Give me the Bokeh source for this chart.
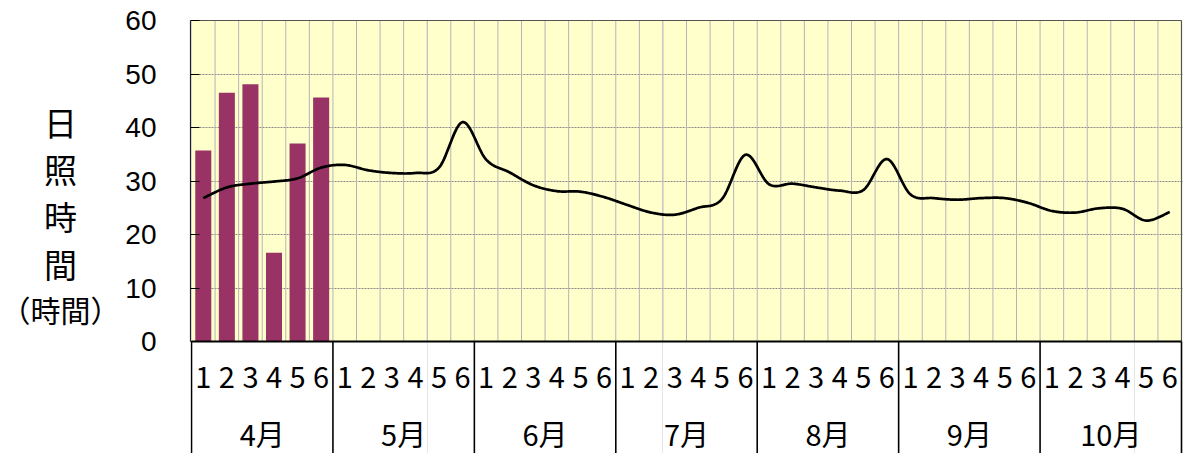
import numpy as np
from bokeh.plotting import figure
from bokeh.layouts import row
from bokeh.models import Range1d, FixedTicker
from bokeh.core.properties import value
from bokeh.embed import file_html
from bokeh.resources import INLINE

# ---------------- data ----------------
months = ["4月", "5月", "6月", "7月", "8月", "9月", "10月"]
pentads = ["1", "2", "3", "4", "5", "6"]
observed = [35.7, 46.5, 48.1, 16.6, 37.0, 45.6]          # April, pentads 1-6
normal = [26.8, 28.8, 29.5, 29.9, 30.5, 32.5,
          33.0, 32.0, 31.5, 31.5, 32.5, 41.0,
          34.0, 31.6, 29.2, 28.1, 28.0, 27.0,
          25.5, 24.1, 23.7, 25.0, 26.6, 34.9,
          29.4, 29.5, 28.8, 28.2, 28.3, 34.1,
          27.5, 26.8, 26.5, 26.8, 26.8, 25.9,
          24.4, 24.1, 24.9, 24.8, 22.6, 24.2]
y_ticks = [0, 10, 20, 30, 40, 50, 60]
y_title_chars = ["日", "照", "時", "間", "（時間）"]

# ---------------- layout (page pixels) ----------------
PAGE_W, PAGE_H = 1183, 453
TITLE_W = 120
W = PAGE_W - TITLE_W
FRAME_LEFT_PX = 190          # page x of frame left edge
AXIS0_PX, AXIS_END_PX = 191, 1181
Y_TOP_PX, Y_ZERO_PX, FRAME_TOP_PX = 20, 341, 19
n = len(months) * len(pentads)

ppx = (AXIS_END_PX - AXIS0_PX) / n
X0 = -(AXIS0_PX - FRAME_LEFT_PX) / ppx
X1 = X0 + (PAGE_W - FRAME_LEFT_PX) / ppx
ppy = (Y_ZERO_PX - Y_TOP_PX) / 60.0
Y1 = 60 + (Y_TOP_PX - FRAME_TOP_PX) / ppy
Y0 = -(PAGE_H - Y_ZERO_PX) / ppy

def ydata(px):
    return (Y_ZERO_PX - px) / ppy

# ---------------- title panel (frame aligned with the chart's frame) ----------------
t = figure(width=TITLE_W, height=PAGE_H, output_backend="svg", toolbar_location=None,
           title=None, x_range=Range1d(0, TITLE_W), y_range=Range1d(Y0, Y1),
           x_axis_location=None, y_axis_location=None,
           min_border_left=0, min_border_right=0, min_border_top=FRAME_TOP_PX, min_border_bottom=0)
t.outline_line_color = None
t.grid.visible = False
t.background_fill_color = "white"
t.border_fill_color = "white"
title_y_px = [121, 168, 215, 263, 308]
t.text(x=[60] * 4, y=[ydata(v) for v in title_y_px[:4]], text=y_title_chars[:4],
       text_align="center", text_baseline="middle", text_font=value("Noto Sans CJK JP"),
       text_font_size="33px", text_color="black")
t.text(x=[60], y=[ydata(v) for v in title_y_px[4:]], text=y_title_chars[4:],
       text_align="center", text_baseline="middle", text_font=value("Noto Sans CJK JP"),
       text_font_size="30px", text_color="black")

# ---------------- main chart ----------------
p = figure(width=W, height=PAGE_H, output_backend="svg", toolbar_location=None,
           title=None, x_range=Range1d(X0, X1), y_range=Range1d(Y0, Y1),
           x_axis_location=None, min_border_left=FRAME_LEFT_PX - TITLE_W,
           min_border_top=FRAME_TOP_PX, min_border_right=0, min_border_bottom=0)
p.outline_line_color = None
p.background_fill_color = "white"
p.border_fill_color = "white"

# plot-area background
p.quad(left=0, right=n, bottom=0, top=60, fill_color="#FFFFCC", line_color=None, level="image")

# horizontal grid
p.ygrid.ticker = FixedTicker(ticks=y_ticks[1:-1])
p.ygrid.grid_line_color = "#8a8a8a"
p.ygrid.grid_line_dash = "2 1"
p.ygrid.grid_line_width = 1

# vertical category grid
bounds = list(range(1, n))
p.segment(x0=bounds, y0=0, x1=bounds, y1=60, line_color="#b4b4b8", line_width=1)

# bars
centers = [i + 0.5 for i in range(n)]
p.vbar(x=centers[:len(observed)], top=observed, bottom=0, width=0.68,
       fill_color="#993366", line_color=None)

# smoothed normal line (Excel-style Bezier / Catmull-Rom)
xs = np.array(centers)
ys = np.array(normal, dtype=float)
cx, cy = [], []
for i in range(n - 1):
    im1 = max(i - 1, 0)
    ip2 = min(i + 2, n - 1)
    p0 = np.array([xs[i], ys[i]])
    p3 = np.array([xs[i + 1], ys[i + 1]])
    p1 = p0 + (p3 - np.array([xs[im1], ys[im1]])) / 6
    p2 = p3 - (np.array([xs[ip2], ys[ip2]]) - p0) / 6
    for tt in np.linspace(0, 1, 24, endpoint=(i == n - 2)):
        b = ((1 - tt) ** 3) * p0 + 3 * ((1 - tt) ** 2) * tt * p1 + 3 * (1 - tt) * tt * tt * p2 + tt ** 3 * p3
        cx.append(b[0]); cy.append(b[1])
p.line(cx, cy, line_color="black", line_width=2.7, line_join="round")

# frame borders (top, right)
p.segment(x0=[0, n], y0=[60, 0], x1=[n, n], y1=[60, 60], line_color="#555555", line_width=1.2)
# month separators
seps = list(range(0, n + 1, len(pentads)))
p.segment(x0=seps, y0=0, x1=seps, y1=Y0, line_color="black", line_width=1.6)
# bottom axis line
p.segment(x0=[0], y0=[0], x1=[n], y1=[0], line_color="black", line_width=2)

# category labels
p.text(x=centers, y=[ydata(377)] * n, text=pentads * len(months),
       text_align="center", text_baseline="middle", text_font=value("Noto Sans CJK JP"),
       text_font_size="29px", text_color="black")
month_centers = [len(pentads) * (k + 0.5) for k in range(len(months))]
p.text(x=month_centers, y=[ydata(432)] * len(months), text=months,
       text_align="center", text_baseline="middle", text_font=value("Noto Sans CJK JP"),
       text_font_size="29px", text_color="black")

# y axis
ax = p.yaxis[0]
ax.ticker = FixedTicker(ticks=y_ticks)
ax.bounds = (0, 60)
ax.axis_line_color = "#222222"
ax.axis_line_width = 1.2
ax.major_tick_in = 9
ax.major_tick_out = 0
ax.major_tick_line_color = "black"
ax.minor_tick_line_color = None
ax.major_label_standoff = 34
ax.major_label_text_font = "Liberation Sans"
ax.major_label_text_font_size = "28px"
ax.major_label_text_color = "black"

layout = row(t, p, spacing=0)
open("out.html", "w").write(file_html(layout, INLINE))
